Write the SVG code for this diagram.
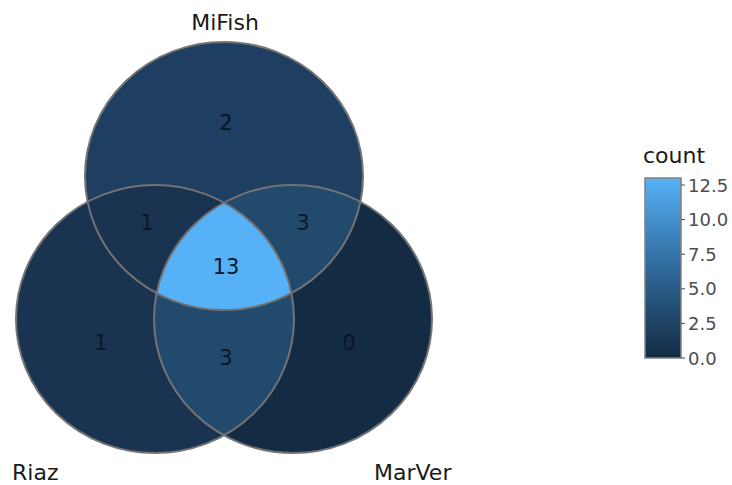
<svg xmlns="http://www.w3.org/2000/svg" width="732" height="485" viewBox="0 0 732 485">
  <style>
    .lbl { font-family: "DejaVu Sans", Verdana, sans-serif; font-size: 22px; fill: #1a1a1a; }
    .num { font-family: "DejaVu Sans", Verdana, sans-serif; font-size: 21px; fill: #0b1624; text-anchor: middle; dominant-baseline: central; }
    .tick { font-family: "DejaVu Sans", Verdana, sans-serif; font-size: 18px; fill: #4d4d4d; dominant-baseline: central; }
    .edge { fill: none; stroke: #737373; stroke-width: 2; }
  </style>
  <defs>
    <ellipse id="setT" cx="224" cy="176" rx="139" ry="134"/>
    <ellipse id="setL" cx="155" cy="319" rx="139" ry="134"/>
    <ellipse id="setR" cx="293" cy="319" rx="139" ry="134"/>
    <clipPath id="clipT"><use href="#setT"/></clipPath>
    <clipPath id="clipL"><use href="#setL"/></clipPath>
    <clipPath id="clipR"><use href="#setR"/></clipPath>
    <linearGradient id="countScale" x1="0" y1="1" x2="0" y2="0">
      <stop offset="0" stop-color="#132b43"/>
      <stop offset="0.5" stop-color="#2f6a9b"/>
      <stop offset="1" stop-color="#56b1f7"/>
    </linearGradient>
  </defs>

  <!-- single-set regions -->
  <g id="node-MiFish">
    <use href="#setT" fill="#1e3f61"/>
    <text class="lbl" x="225" y="30" text-anchor="middle">MiFish</text>
  </g>
  <g id="node-Riaz">
    <use href="#setL" fill="#1a3351"/>
    <text class="lbl" x="12" y="480">Riaz</text>
  </g>
  <g id="node-MarVer">
    <use href="#setR" fill="#132b43"/>
    <text class="lbl" x="374" y="480">MarVer</text>
  </g>

  <!-- pairwise overlaps -->
  <g id="node-MiFish-Riaz" clip-path="url(#clipT)">
    <use href="#setL" fill="#1a3351"/>
  </g>
  <g id="node-MiFish-MarVer" clip-path="url(#clipT)">
    <use href="#setR" fill="#224a6d"/>
  </g>
  <g id="node-Riaz-MarVer" clip-path="url(#clipL)">
    <use href="#setR" fill="#224a6d"/>
  </g>
  <!-- triple overlap -->
  <g id="node-all" clip-path="url(#clipT)">
    <g clip-path="url(#clipL)">
      <use href="#setR" fill="#56b1f7"/>
    </g>
  </g>

  <!-- set outlines -->
  <g id="connectors">
    <use href="#setT" class="edge"/>
    <use href="#setL" class="edge"/>
    <use href="#setR" class="edge"/>
  </g>

  <!-- region counts -->
  <g id="counts">
    <text class="num" x="226" y="123">2</text>
    <text class="num" x="147" y="223">1</text>
    <text class="num" x="303" y="223">3</text>
    <text class="num" x="226" y="267">13</text>
    <text class="num" x="101" y="343">1</text>
    <text class="num" x="226" y="358">3</text>
    <text class="num" x="349" y="343">0</text>
  </g>

  <!-- colour bar legend -->
  <g id="legend">
    <text class="lbl" x="643" y="163">count</text>
    <rect x="645" y="178" width="36" height="180" fill="url(#countScale)" stroke="#808080" stroke-width="1.5"/>
    <g stroke="#4d4d4d" stroke-width="1">
      <line x1="681" y1="185" x2="685" y2="185"/>
      <line x1="681" y1="219.6" x2="685" y2="219.6"/>
      <line x1="681" y1="254.2" x2="685" y2="254.2"/>
      <line x1="681" y1="288.8" x2="685" y2="288.8"/>
      <line x1="681" y1="323.4" x2="685" y2="323.4"/>
      <line x1="681" y1="358" x2="685" y2="358"/>
    </g>
    <text class="tick" x="688" y="185">12.5</text>
    <text class="tick" x="688" y="219.6">10.0</text>
    <text class="tick" x="688" y="254.2">7.5</text>
    <text class="tick" x="688" y="288.8">5.0</text>
    <text class="tick" x="688" y="323.4">2.5</text>
    <text class="tick" x="688" y="358">0.0</text>
  </g>
</svg>
